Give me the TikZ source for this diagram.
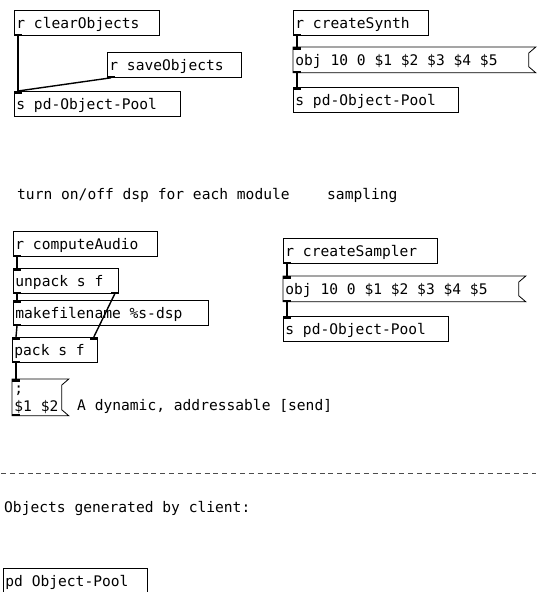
\documentclass[tikz,border=0pt]{standalone}
\usepackage{fontspec}
\newfontfamily\pdfont{DejaVu Sans Mono}

\tikzset{
  pdbox/.style={draw, line width=0.8pt, anchor=north west, inner xsep=2pt, inner ysep=1pt,
    text height=17pt, text depth=6pt, text width=#1, align=flush left,
    font=\pdfont\fontsize{14.6}{18}\selectfont},
  pdmsg/.style={pdbox=#1, draw=none},
  pdcomment/.style={anchor=base west, inner sep=0pt, font=\pdfont\fontsize{14.6}{18}\selectfont},
  patchcord/.style={line width=1.4pt},
}
\newcommand\msgframe[1]{\draw[line width=0.8pt] (#1.north west) -- (#1.north east)
  -- ([xshift=-7pt,yshift=-6pt]#1.north east) -- ([xshift=-7pt,yshift=6pt]#1.south east)
  -- (#1.south east) -- (#1.south west) -- cycle;}
\newcommand\inlet[1]{\fill (#1.north west) rectangle ++(8,3);}
\newcommand\inletR[1]{\fill ([xshift=-8pt]#1.north east) rectangle ++(8,3);}
\newcommand\outlet[1]{\fill (#1.south west) rectangle ++(8,-2);}
\newcommand\outletR[1]{\fill ([xshift=-8pt]#1.south east) rectangle ++(8,-2);}

\begin{document}
\begin{tikzpicture}[x=1pt, y=-1pt]
  \useasboundingbox (0,0) rectangle (536,592);

  % clearing and saving
  \node[pdbox=141pt] (clearobj) at (14,10) {r clearObjects};
  \node[pdbox=130pt] (saveobj) at (107,52) {r saveObjects};
  \node[pdbox=162pt] (poolA) at (14,91) {s pd-Object-Pool};
  \outlet{clearobj} \outlet{saveobj} \inlet{poolA}
  \draw[patchcord] ([xshift=4pt]clearobj.south west) -- ([xshift=4pt]poolA.north west);
  \draw[patchcord] ([xshift=4pt]saveobj.south west) -- ([xshift=4pt]poolA.north west);

  % synth
  \node[pdbox=131pt] (synth) at (293,10) {r createSynth};
  \node[pdmsg=238pt] (synthmsg) at (293,47) {obj 10 0 \$1 \$2 \$3 \$4 \$5};
  \msgframe{synthmsg}
  \node[pdbox=161pt] (poolB) at (293,87) {s pd-Object-Pool};
  \outlet{synth} \inlet{synthmsg} \outlet{synthmsg} \inlet{poolB}
  \draw[patchcord] ([xshift=4pt]synth.south west) -- ([xshift=4pt]synthmsg.north west);
  \draw[patchcord] ([xshift=4pt]synthmsg.south west) -- ([xshift=4pt]poolB.north west);

  \node[pdcomment] (dspnote) at (17,199) {turn on/off dsp for each module};
  \node[pdcomment] (samplenote) at (327,199) {sampling};

  % dsp switch
  \node[pdbox=140pt] (compute) at (13,231) {r computeAudio};
  \node[pdbox=101pt] (unpack) at (13,268) {unpack s f};
  \node[pdbox=191pt] (makefn) at (13,300) {makefilename \%s-dsp};
  \node[pdbox=81pt] (pack) at (12,337) {pack s f};
  \node[pdmsg=52pt, text height=13pt, text depth=21pt] (sendmsg) at (12,379) {;\\\$1 \$2};
  \msgframe{sendmsg}
  \outlet{compute} \inlet{unpack} \outlet{unpack} \outletR{unpack}
  \inlet{makefn} \outlet{makefn} \inlet{pack} \inletR{pack} \outlet{pack}
  \inlet{sendmsg} \outlet{sendmsg}
  \draw[patchcord] ([xshift=4pt]compute.south west) -- ([xshift=4pt]unpack.north west);
  \draw[patchcord] ([xshift=4pt]unpack.south west) -- ([xshift=4pt]makefn.north west);
  \draw[patchcord] ([xshift=-4pt]unpack.south east) -- ([xshift=-4pt]pack.north east);
  \draw[patchcord] ([xshift=4pt]makefn.south west) -- ([xshift=4pt]pack.north west);
  \draw[patchcord] ([xshift=4pt]pack.south west) -- ([xshift=4pt]sendmsg.north west);
  \node[pdcomment] (sendnote) at (77,410) {A dynamic, addressable [send]};

  % sampler
  \node[pdbox=150pt] (sampler) at (283,238) {r createSampler};
  \node[pdmsg=238pt] (samplermsg) at (283,276) {obj 10 0 \$1 \$2 \$3 \$4 \$5};
  \msgframe{samplermsg}
  \node[pdbox=161pt] (poolC) at (283,316) {s pd-Object-Pool};
  \outlet{sampler} \inlet{samplermsg} \outlet{samplermsg} \inlet{poolC}
  \draw[patchcord] ([xshift=4pt]sampler.south west) -- ([xshift=4pt]samplermsg.north west);
  \draw[patchcord] ([xshift=4pt]samplermsg.south west) -- ([xshift=4pt]poolC.north west);

  \draw[line width=0.9pt, black!70, dash pattern=on 5pt off 3.85pt] (1,473) -- (536,473);

  \node[pdcomment] (clientnote) at (4,512) {Objects generated by client:};
  \node[pdbox=140pt] (objpool) at (3,568) {pd Object-Pool};
\end{tikzpicture}
\end{document}
